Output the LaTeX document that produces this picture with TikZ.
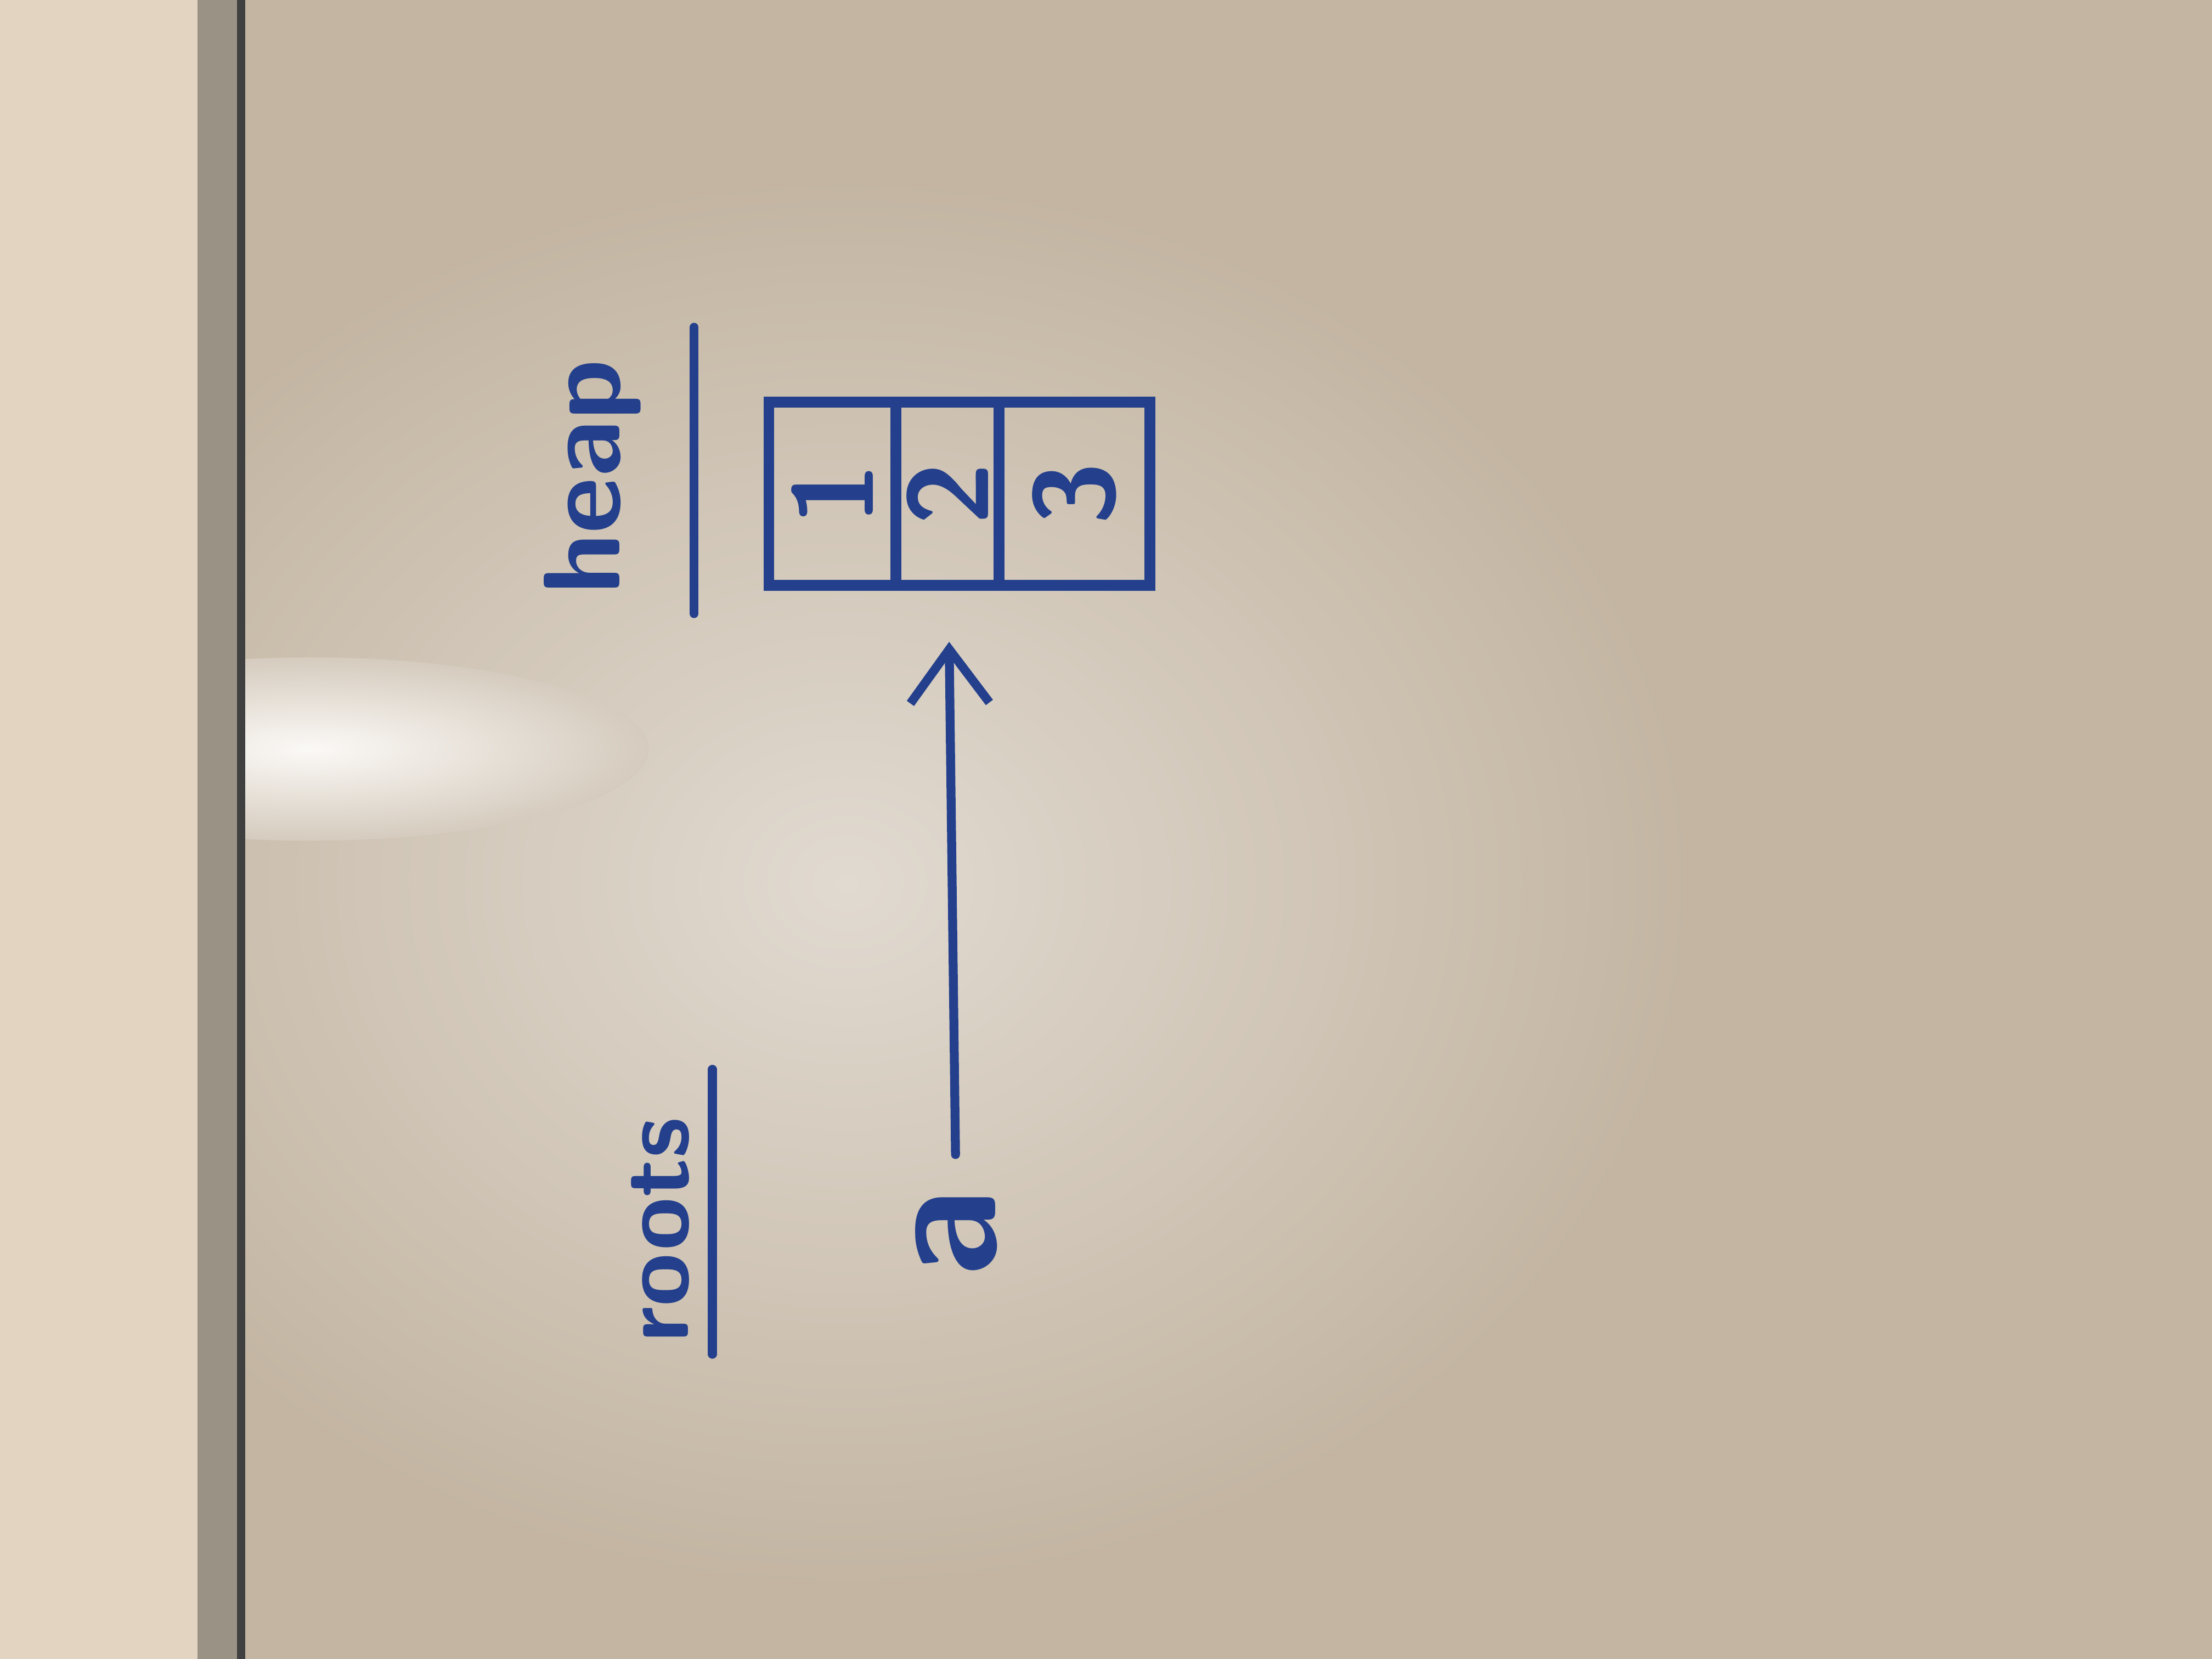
\documentclass[tikz,border=0pt]{standalone}
\usepackage{tikz}
\usetikzlibrary{arrows.meta, positioning}
\definecolor{ink}{HTML}{24408C}
\definecolor{wall}{HTML}{E3D4C2}
\definecolor{frame}{HTML}{9A9285}
\definecolor{board}{HTML}{C3B5A2}
\tikzstyle{cell} = [rectangle, minimum height=1.3cm, inner sep=0pt, outer sep=0pt, draw=ink, line width=2.2pt, text=ink, font=\fontsize{23}{27}\selectfont\sffamily\bfseries]
\tikzstyle{word} = [text=ink, inner sep=1pt]
\tikzstyle{underline} = [draw=ink, line width=1.8pt, line cap=round]
\tikzstyle{arrow} = [-{Straight Barb[length=3.8mm, width=5.6mm]}, draw=ink, line width=1.8pt, line cap=round]

\begin{document}
\begin{tikzpicture}[node distance=0pt]

    % whiteboard, frame and wall
    \useasboundingbox (0, 0) rectangle (15.68, 11.76);
    \fill [wall] (0, 0) rectangle (1.40, 11.76);
    \fill [frame] (1.40, 0) rectangle (1.73, 11.76);
    \fill [board] (1.73, 0) rectangle (15.68, 11.76);
    \begin{scope}
        \clip (1.74, 0) rectangle (15.68, 11.76);
        \shade [inner color=board!50!white, outer color=board] (6, 5.5) ellipse (6 and 5);
        \shade [inner color=white!85!wall, outer color=board!70!white] (2.2, 6.45) ellipse (2.4 and 0.65);
    \end{scope}
    \fill [black!75] (1.68, 0) rectangle (1.74, 11.76);

    \node (heap) [word, rotate=90, font=\fontsize{22}{26}\selectfont\sffamily\bfseries] at (4.20, 8.38) {heap};
    \node (roots) [word, rotate=90, font=\fontsize{19.5}{23}\selectfont\sffamily\bfseries] at (4.68, 3.04) {roots};
    \coordinate (heapTop) at (4.92, 9.44);
    \coordinate (heapBot) at (4.92, 7.41);
    \coordinate (rootsTop) at (5.05, 4.18);
    \coordinate (rootsBot) at (5.05, 2.16);
    \draw [underline] (heapTop) -- (heapBot);
    \draw [underline] (rootsTop) -- (rootsBot);

    \node (cell1) [cell, minimum width=0.90cm] at (5.90, 8.26) {\rotatebox{90}{1}};
    \node (cell2) [cell, minimum width=0.73cm, right=of cell1] {\rotatebox{90}{2}};
    \node (cell3) [cell, minimum width=1.07cm, right=of cell2] {\rotatebox{90}{3}};

    \node (a) [word, rotate=90, font=\fontsize{34}{38}\selectfont\sffamily\bfseries] at (6.78, 3.02) {a};
    \draw [arrow, shorten <=0.2cm, shorten >=0.4cm] (a) -- (cell2);

\end{tikzpicture}
\end{document}
